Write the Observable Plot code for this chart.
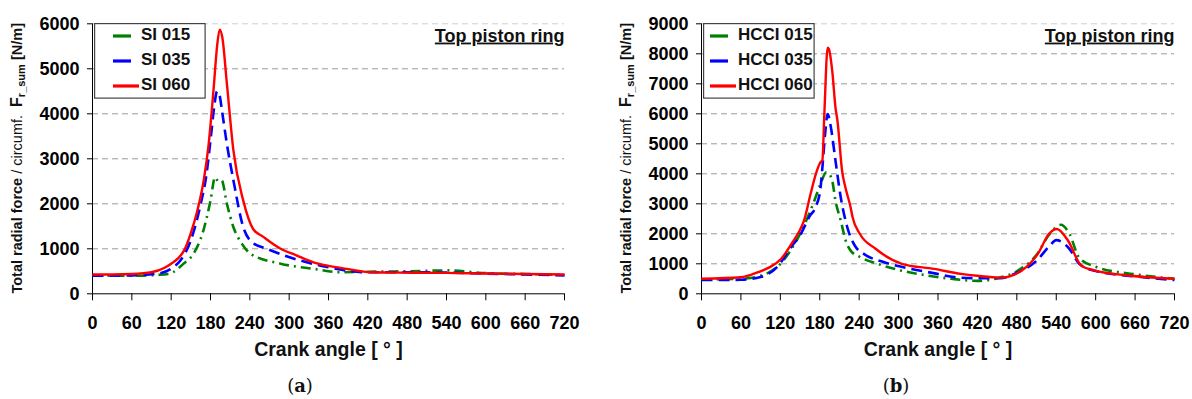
<!DOCTYPE html>
<html><head><meta charset="utf-8">
<script src="https://cdn.jsdelivr.net/npm/d3@7"></script>
<script src="https://cdn.jsdelivr.net/npm/@observablehq/plot@0.6"></script>
<style>
body{margin:0;background:#fff;font-family:"Liberation Sans",Arial,sans-serif;}
#wrap{position:relative;width:1192px;height:399px;overflow:hidden;background:#fff;}
.panel{position:absolute;top:0;width:596px;height:365px;}
.legend{position:absolute;top:23px;}
.cap{position:absolute;top:372px;width:596px;text-align:center;font-family:"DejaVu Serif","Liberation Serif",serif;font-size:18px;line-height:28px;color:#111;}
.cap b{font-weight:bold;}
</style>
</head><body>
<div id="wrap">
  <div class="panel" id="pa" style="left:0"></div>
  <div class="panel" id="pb" style="left:596px"></div>
  <div class="cap" style="left:2px">(<b>a</b>)</div>
  <div class="cap" style="left:598px">(<b>b</b>)</div>
</div>
<script>
// ---------- data ----------
const xTicks = [0,60,120,180,240,300,360,420,480,540,600,660,720];
const yTicksA = [0,1000,2000,3000,4000,5000,6000];
const yTicksB = [0,1000,2000,3000,4000,5000,6000,7000,8000,9000];
const xLabel = "Crank angle [ ° ]";
const subtitle = "Top piston ring";
const seriesNamesA = ["SI 015","SI 035","SI 060"];
const seriesNamesB = ["HCCI 015","HCCI 035","HCCI 060"];

const si015Angle = [0,60,100,115,123,139,154,169,180,187,192,197,205,215,228,241,287,337,378,420,480,541,600,660,720];
const si015Value = [400,400,420,440,480,670,890,1400,2070,2590,2500,2520,2000,1480,1110,890,670,555,480,490,500,520,460,440,420];

const si035Angle = [0,60,100,120,134,149,164,174,181,186,190,194,197.5,205,215,230,243,266,312,350,419,470,540,600,660,720];
const si035Value = [400,410,450,560,740,1150,1930,2670,3550,4200,4500,4400,4070,3330,2520,1480,1150,1000,760,620,480,480,470,450,430,410];

const si060Angle = [0,30,60,90,110,120,130,140,150,160,170,177,185,190,194,198,205,215,230,245,260,287,310,337,360,388,424,480,541,600,660,720];
const si060Value = [430,430,440,480,580,670,780,970,1350,1850,2550,3300,4600,5500,5870,5700,4670,3180,2070,1440,1270,1000,860,700,620,555,480,470,466,450,440,430];

const hc015Angle = [0,60,90,120,150,170,181,190,194,199,204,212,219.5,227,242,268,303,344,380,420,450,480,510,530,547,560,575,600,660,720];
const hc015Value = [480,500,600,1000,2000,3000,3650,4050,4000,3770,3100,2440,1770,1440,1220,1000,780,610,500,430,520,750,1300,2000,2300,2000,1200,900,650,500];

const hc035Angle = [0,30,60,90,115,138,150,165,174,181,184,188,192,197,204,212,222,235,247,278,319,359,385,420,455,480,510,530,540,560,575,600,660,720];
const hc035Value = [460,460,470,560,890,1610,1950,2600,2900,3500,4200,5300,5990,5540,4430,3210,2210,1550,1330,1050,830,665,555,520,520,700,1100,1600,1790,1500,1000,760,580,460];

const hc060Angle = [0,60,86,104,121,138,148,156,166,174,181,184,187,192,194,199,204,207,214,219,227,230,241,265,305,354,395,420,455,489,512,529,541,558,578,598,650,720];
const hc060Value = [500,550,720,890,1160,1700,2050,2440,3325,3990,4380,4450,6000,8200,8150,7430,6200,5760,4100,3550,2880,2550,2000,1500,1000,830,665,600,540,800,1330,2000,2160,1770,940,780,610,500];

// ---------- styles ----------
const styles = [
  {stroke:"#008000", dash:"10,5,2,5", width:2.6},
  {stroke:"#0000ff", dash:"11,6", width:2.6},
  {stroke:"#ff0000", dash:null, width:2.4}
];

function rows(angle, value){ return angle.map((a,i)=>({angle:a, value:value[i]})); }

function panel(el, opts){
  const {series, yTicks, yMax, marginLeft, marginRight, names, legendLeft} = opts;
  const W = 596, H = 365;
  const marks = [
    Plot.gridY(yTicks.filter(d=>d>0 && d<yMax), {stroke:"#9a9a9a", strokeOpacity:1, strokeDasharray:"6,4", strokeWidth:1}),
    Plot.gridY([yMax], {stroke:"#cfcfcf", strokeOpacity:1, strokeDasharray:"6,4", strokeWidth:1}),
    Plot.ruleX([0], {stroke:"black", strokeWidth:1}),
    Plot.ruleY([0], {stroke:"black", strokeWidth:1}),
    Plot.axisX({ticks:xTicks, tickSize:7, tickPadding:15, tickFormat:d=>String(d), label:null, fontSize:18, fontWeight:"bold"}),
    Plot.axisY({ticks:yTicks, tickSize:5, tickPadding:8, tickFormat:d=>String(d), label:null, fontSize:18, fontWeight:"bold"}),
    ...series.map((s,i)=>Plot.line(rows(s[0], s[1]), {
      x:"angle", y:"value", curve:"monotone-x",
      stroke:styles[i].stroke, strokeWidth:styles[i].width,
      strokeDasharray:styles[i].dash || undefined, strokeLinecap:"butt"
    })),
    Plot.text([xLabel], {frameAnchor:"bottom", dy:56, lineAnchor:"middle", fontSize:19.5, fontWeight:"bold", fill:"#111"}),
    Plot.text([subtitle], {frameAnchor:"top-right", textAnchor:"end", lineAnchor:"middle", dy:12, fontSize:18, fontWeight:"bold", fill:"#111"})
  ];
  const svg = Plot.plot({
    width:W, height:H,
    marginTop:23.3, marginBottom:H-293.3, marginLeft, marginRight,
    x:{domain:[0,720]}, y:{domain:[0,yMax]},
    style:{fontFamily:"'Liberation Sans', Arial, sans-serif", color:"black", background:"transparent", overflow:"visible"},
    marks
  });
  d3.select(svg).selectAll("text").filter(function(){ return this.textContent === subtitle; })
    .attr("text-decoration","underline").style("text-decoration","underline");
  // y-axis label with subscript
  const cy = (23.3+293.3)/2;
  const t = d3.select(svg).append("text")
    .attr("transform", `translate(${marginLeft-74},${cy}) rotate(-90)`)
    .attr("text-anchor","middle").attr("dominant-baseline","middle")
    .attr("font-size",14.5).attr("font-weight","bold").attr("fill","#111");
  t.append("tspan").text("Total radial force ");
  t.append("tspan").attr("font-weight","normal").text("/ circumf.\u00a0\u00a0");
  t.append("tspan").attr("font-size",16).text("F");
  t.append("tspan").attr("font-size",11).attr("dy",4).text("r_sum");
  t.append("tspan").attr("dy",-4).text(" [N/m]");
  el.appendChild(svg);

  // legend
  const lg = d3.select(el).append("svg").attr("class","legend")
    .style("left", legendLeft+"px").attr("width",112).attr("height",76);
  lg.append("rect").attr("x",0.6).attr("y",0.6).attr("width",110.5).attr("height",74.5)
    .attr("fill","white").attr("stroke","#444").attr("stroke-width",1.2);
  const textX = opts.textX;
  names.forEach((n,i)=>{
    const y = 13 + i*25;
    lg.append("line").attr("x1",textX-28).attr("x2", i===2 ? textX-2 : textX-10)
      .attr("y1",y).attr("y2",y).attr("stroke",styles[i].stroke).attr("stroke-width",3.2)
      .attr("stroke-dasharray", i===2 ? null : "18,20");
    lg.append("text").attr("x",textX).attr("y",y).attr("dominant-baseline","middle")
      .attr("font-size",17).attr("font-weight","bold").attr("fill","#111")
      .attr("font-family","'Liberation Sans', Arial, sans-serif").text(n);
  });
}

panel(document.getElementById("pa"), {
  series:[[si015Angle,si015Value],[si035Angle,si035Value],[si060Angle,si060Value]],
  yTicks:yTicksA, yMax:6000, marginLeft:92, marginRight:32, names:seriesNamesA, legendLeft:94, textX:47
});
panel(document.getElementById("pb"), {
  series:[[hc015Angle,hc015Value],[hc035Angle,hc035Value],[hc060Angle,hc060Value]],
  yTicks:yTicksB, yMax:9000, marginLeft:105, marginRight:18, names:seriesNamesB, legendLeft:107, textX:35
});
</script>
</body></html>
